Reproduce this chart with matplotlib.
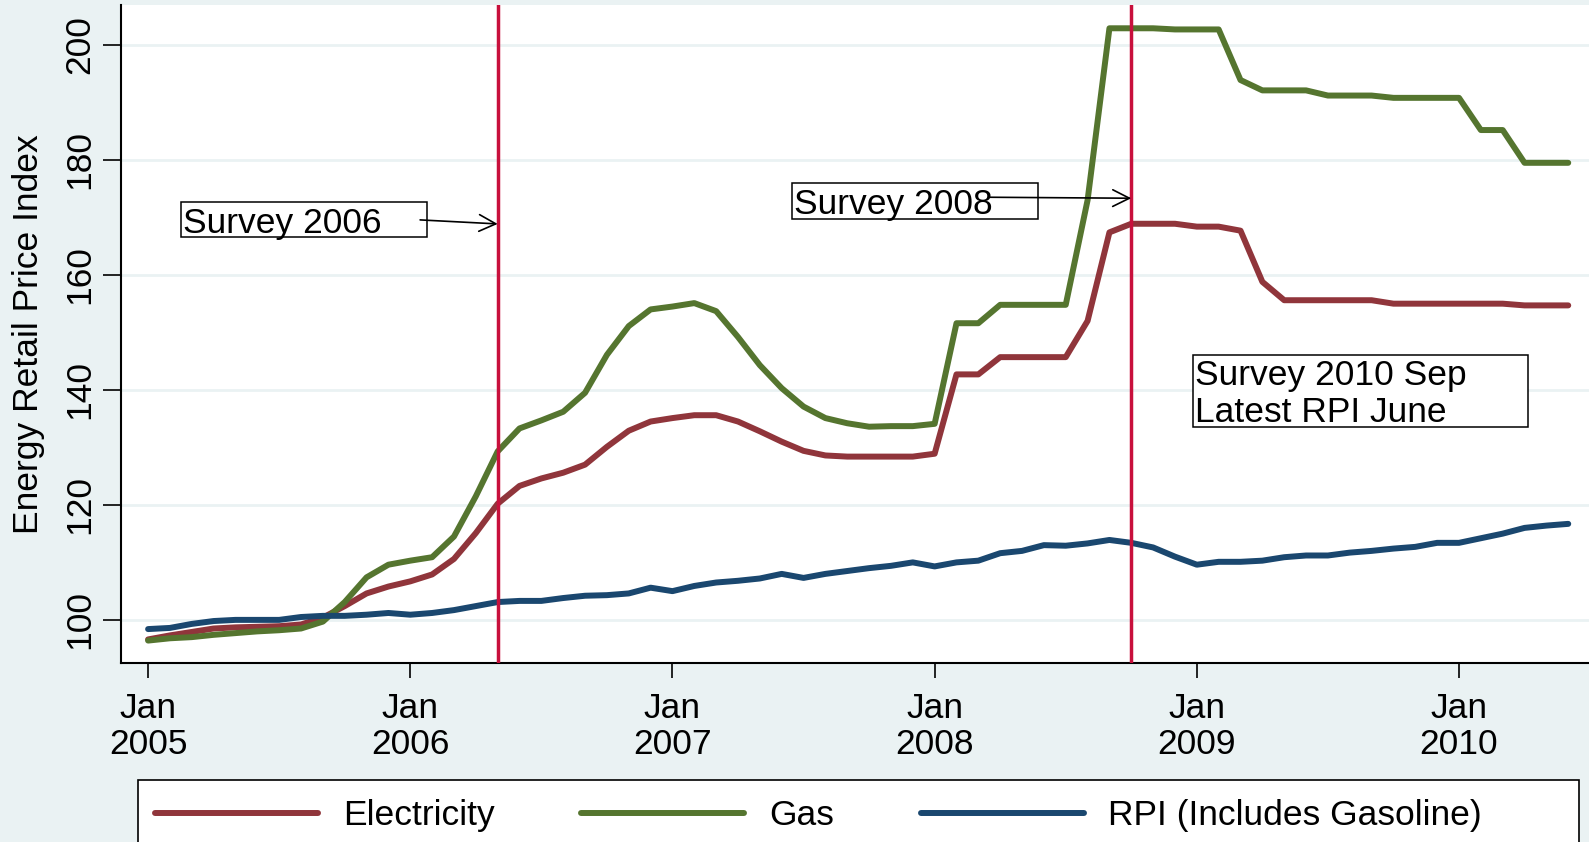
import numpy as np
import matplotlib
matplotlib.use("Agg")
import matplotlib.pyplot as plt
from matplotlib.patches import Rectangle
from matplotlib.lines import Line2D

plt.rcParams["font.family"] = ["Liberation Sans", "DejaVu Sans"]

# Monthly index values, Jan 2005 - Jun 2010
electricity = [
    96.6, 97.3, 97.9, 98.5, 98.7, 98.8, 98.9, 99.2, 100.4, 102.4, 104.6, 105.8,
    106.7, 107.9, 110.6, 115.1, 120.2, 123.3, 124.6, 125.6, 127.0, 130.1, 132.9, 134.5,
    135.1, 135.6, 135.6, 134.5, 132.8, 131.0, 129.4, 128.6, 128.4, 128.4, 128.4, 128.4,
    128.9, 142.7, 142.7, 145.7, 145.7, 145.7, 145.7, 152.0, 167.4, 168.9, 168.9, 168.9,
    168.4, 168.4, 167.7, 158.8, 155.6, 155.6, 155.6, 155.6, 155.6, 155.0, 155.0, 155.0,
    155.0, 155.0, 155.0, 154.7, 154.7, 154.7,
]
gas = [
    96.4, 96.8, 97.0, 97.4, 97.7, 98.0, 98.2, 98.5, 99.7, 103.1, 107.4, 109.6,
    110.3, 110.9, 114.5, 121.5, 129.3, 133.3, 134.7, 136.2, 139.5, 146.1, 151.1, 154.0,
    154.5, 155.1, 153.7, 149.2, 144.3, 140.3, 137.1, 135.1, 134.2, 133.6, 133.7, 133.7,
    134.1, 151.6, 151.6, 154.8, 154.8, 154.8, 154.8, 173.0, 202.9, 202.9, 202.9, 202.7,
    202.7, 202.7, 193.9, 192.1, 192.1, 192.1, 191.2, 191.2, 191.2, 190.8, 190.8, 190.8,
    190.8, 185.2, 185.2, 179.5, 179.5, 179.5,
]
rpi = [
    98.4, 98.6, 99.3, 99.8, 100.0, 100.0, 100.0, 100.5, 100.7, 100.7, 100.9, 101.2,
    100.9, 101.2, 101.7, 102.4, 103.1, 103.3, 103.3, 103.8, 104.2, 104.3, 104.6, 105.6,
    105.0, 105.9, 106.5, 106.8, 107.2, 108.0, 107.3, 108.0, 108.5, 109.0, 109.4, 110.0,
    109.3, 110.0, 110.3, 111.6, 112.0, 113.0, 112.9, 113.3, 113.9, 113.4, 112.6, 111.0,
    109.6, 110.1, 110.1, 110.3, 110.9, 111.2, 111.2, 111.7, 112.0, 112.4, 112.7, 113.4,
    113.4, 114.2, 115.0, 116.0, 116.4, 116.7,
]
year_ticks = [0, 12, 24, 36, 48, 60]
year_labels = ["Jan\n2005", "Jan\n2006", "Jan\n2007", "Jan\n2008", "Jan\n2009", "Jan\n2010"]
survey_months = [16, 45]  # May 2006, Oct 2008

months = np.arange(len(electricity))

BG = "#EAF2F3"
C_ELEC = "#90353B"
C_GAS = "#55752F"
C_RPI = "#1A476F"
C_SURVEY = "#C8103C"
FS = 25.5
LW = 4.3

fig = plt.figure(figsize=(15.89, 8.42), dpi=100, facecolor=BG)
ax = fig.add_axes([121 / 1589, 1 - 663 / 842, 1468 / 1589, 658 / 842])
ax.set_facecolor("white")

ax.plot(months, electricity, color=C_ELEC, lw=LW, solid_capstyle="round", label="Electricity", zorder=3)
ax.plot(months, gas, color=C_GAS, lw=LW, solid_capstyle="round", label="Gas", zorder=3)
ax.plot(months, rpi, color=C_RPI, lw=LW, solid_capstyle="round", label="RPI (Includes Gasoline)", zorder=3)

for m in survey_months:
    ax.axvline(m, color=C_SURVEY, lw=2.5, zorder=4)

ax.set_xlim(-1.24, 65.95)
ax.set_ylim(92.5, 206.95)
ax.set_xticks(year_ticks)
ax.set_xticklabels(year_labels, fontsize=FS, linespacing=1.1)
ax.set_yticks([100, 120, 140, 160, 180, 200])
ax.set_yticklabels(["100", "120", "140", "160", "180", "200"], fontsize=FS,
                   rotation=90, va="center")
ax.tick_params(axis="x", length=11, width=1.2, pad=10)
ax.tick_params(axis="y", length=13, width=1.2, pad=5)

ax.set_axisbelow(True)
ax.yaxis.grid(True, color=BG, lw=2)

for side in ["top", "right"]:
    ax.spines[side].set_visible(False)
for side in ["left", "bottom"]:
    ax.spines[side].set_linewidth(1.5)

ax.set_ylabel("Energy Retail Price Index", fontsize=FS)
ax.yaxis.set_label_coords(-0.052, 0.5)

# annotation boxes
boxes = [
    (1.50, 166.56, 11.25, 6.19),
    (29.47, 169.70, 11.26, 6.30),
    (47.81, 133.57, 15.35, 12.52),
]
for x0, y0, w, h in boxes:
    ax.add_patch(Rectangle((x0, y0), w, h, facecolor="white", edgecolor="black",
                           lw=1.1, zorder=5))

ax.text(1.59, 167.30, "Survey 2006", fontsize=FS, va="baseline", zorder=6)
ax.text(29.56, 170.56, "Survey 2008", fontsize=FS, va="baseline", zorder=6)
ax.text(47.92, 140.87, "Survey 2010 Sep", fontsize=FS, va="baseline", zorder=6)
ax.text(47.92, 134.49, "Latest RPI June", fontsize=FS, va="baseline", zorder=6)

arrow = dict(arrowstyle="->", lw=1.2, color="black", mutation_scale=30,
             shrinkA=0, shrinkB=0)
ax.annotate("", xy=(16, 168.87), xytext=(12.45, 169.57), arrowprops=arrow, zorder=7)
ax.annotate("", xy=(45, 173.34), xytext=(38.53, 173.51), arrowprops=arrow, zorder=7)

# legend: frame drawn separately so it runs off the bottom edge
fig.add_artist(Rectangle((138 / 1589, (842 - 860) / 842), 1441 / 1589, 80 / 842,
                         transform=fig.transFigure, facecolor="white",
                         edgecolor="black", lw=1.2, zorder=1))
handles = [Line2D([], [], color=c, lw=LW, solid_capstyle="round")
           for c in [C_ELEC, C_GAS, C_RPI]]
fig.legend(handles, ["Electricity", "Gas", "RPI (Includes Gasoline)"],
           loc="upper left", bbox_to_anchor=(155 / 1589, 1 - 799 / 842),
           ncol=3, frameon=False, fontsize=FS, handlelength=4.6,
           handletextpad=0.7, columnspacing=2.45, borderpad=0, borderaxespad=0)

fig.savefig("out.png", dpi=100, facecolor=BG)
